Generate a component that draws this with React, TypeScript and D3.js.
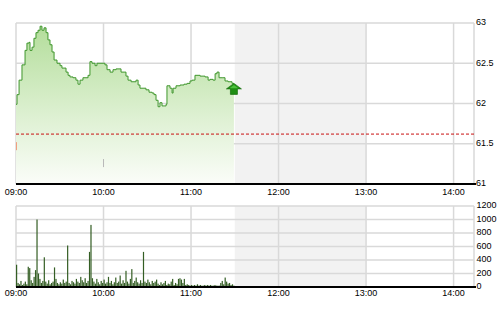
import React from "react";
import * as d3 from "d3";

// minutes after 09:00
const priceTimes = [
  0, 0.7, 2.1, 4.1, 6.2, 7.5, 8.9, 9.6, 11.0, 12.3, 13.7, 15.1, 16.5, 17.8, 19.2, 20.6, 21.9, 23.3, 24.7, 26.1,
  28.1, 30.2, 31.5, 32.9, 34.3, 35.7, 37.0, 39.1, 41.1, 42.5, 43.9, 45.9, 48.0, 49.4, 50.7, 52.1, 54.2, 55.5,
  57.6, 59.7, 61.0, 62.4, 64.5, 66.5, 68.6, 70.6, 72.0, 74.1, 75.4, 76.8, 78.9, 80.9, 82.3, 83.7, 85.0, 87.1,
  89.1, 91.2, 93.3, 94.6, 96.0, 97.4, 98.7, 100.1, 101.5, 102.9, 103.5, 105.6, 107.0, 107.7, 109.7, 112.5,
  115.2, 117.3, 119.3, 120.7, 122.7, 126.2, 129.6, 131.7, 133.0, 135.1, 136.5, 137.8, 139.2, 141.3, 143.3,
  145.4, 148.1, 149.4,
];
const prices = [
  61.99, 62.11, 62.29, 62.48, 62.66, 62.75, 62.76, 62.66, 62.7, 62.81, 62.88, 62.91, 62.96, 62.91, 62.94, 62.88,
  62.79, 62.73, 62.64, 62.54, 62.5, 62.47, 62.44, 62.44, 62.39, 62.35, 62.33, 62.32, 62.29, 62.24, 62.29, 62.32,
  62.32, 62.35, 62.52, 62.5, 62.47, 62.5, 62.5, 62.5, 62.48, 62.42, 62.39, 62.42, 62.43, 62.43, 62.39, 62.39,
  62.34, 62.29, 62.27, 62.27, 62.29, 62.23, 62.19, 62.19, 62.17, 62.14, 62.13, 62.11, 62.04, 61.96, 62.01,
  61.97, 61.97, 61.99, 62.22, 62.19, 62.13, 62.19, 62.22, 62.23, 62.24, 62.25, 62.28, 62.29, 62.35, 62.34,
  62.33, 62.29, 62.3, 62.29, 62.37, 62.39, 62.32, 62.32, 62.28, 62.27, 62.25, 62.25,
];
const volumes = [
  330, 60, 40, 90, 30, 50, 80, 40, 300, 280, 100, 60, 150, 250, 1000, 200, 120, 60, 90, 440,
  80, 50, 100, 40, 60, 80, 290, 120, 60, 40, 70, 50, 110, 60, 80, 615, 60, 40, 90, 70,
  50, 120, 80, 60, 150, 100, 70, 130, 60, 90, 520, 920, 130, 80, 50, 120, 70, 40, 90, 60,
  110, 50, 70, 150, 60, 90, 40, 70, 140, 60, 80, 170, 50, 100, 60, 240, 80, 50, 120, 265,
  60, 90, 140, 70, 50, 100, 60, 520, 80, 60, 110, 70, 40, 90, 60, 80, 110, 50, 30, 70,
  40, 60, 90, 30, 50, 40, 80, 120, 30, 60, 40, 120, 130, 110, 60, 120, 30, 40, 30, 20,
  30, 20, 30, 20, 40, 20, 30, 20, 20, 30, 20, 30, 20, 30, 20, 20, 30, 20, 20, 20,
  60, 90, 40, 140, 80, 50, 60, 30, 40, 20,
];
const refPrice = 61.62;
const openMark = [61.42, 61.52];
const midMark = [61.21, 61.31];
const timeTicks = [0, 60, 120, 180, 240, 300];
const timeLabels = ["09:00", "10:00", "11:00", "12:00", "13:00", "14:00"];
const priceTicks = [61, 61.5, 62, 62.5, 63];
const priceLabels = ["61", "61.5", "62", "62.5", "63"];
const volTicks = [0, 200, 400, 600, 800, 1000, 1200];
const breakRange = [150, 240];

const W = 500;
const H = 312;
const L = 16;
const R = 474;
const font = "'Liberation Sans', Arial, sans-serif";

export default function App() {
  const x = d3.scaleLinear().domain([0, 314]).range([L, R]);
  const y = d3.scaleLinear().domain([61, 63]).range([184, 23]);
  const yv = d3.scaleLinear().domain([0, 1200]).range([287, 206]);

  const pts = priceTimes.map((t, i) => [t, prices[i]] as [number, number]);
  const line = d3.line<[number, number]>().curve(d3.curveStepAfter).x((d) => x(d[0])).y((d) => y(d[1]));
  const area = d3
    .area<[number, number]>()
    .curve(d3.curveStepAfter)
    .x((d) => x(d[0]))
    .y0(184)
    .y1((d) => y(d[1]));

  const lastT = priceTimes[priceTimes.length - 1];
  const lastP = prices[prices.length - 1];
  const ax = x(lastT);
  const ay = y(lastP);

  const grid = "#d9d9d9";

  const panel = (top: number, bottom: number) => (
    <g>
      <rect x={x(breakRange[0])} y={top} width={x(breakRange[1]) - x(breakRange[0])} height={bottom - top} fill="#f2f2f2" />
      {timeTicks.map((t) => (
        <line key={t} x1={x(t)} x2={x(t)} y1={top} y2={bottom} stroke={grid} strokeWidth={1.5} />
      ))}
      <line x1={R} x2={R} y1={top} y2={bottom} stroke={grid} strokeWidth={1.5} />
    </g>
  );

  return (
    <svg width={W} height={H} style={{ position: "absolute", left: 0, top: 0, background: "#fff" }}>
      <defs>
        <linearGradient id="pf2" x1="0" y1={23} x2="0" y2={184} gradientUnits="userSpaceOnUse">
          <stop offset="0" stopColor="#b2dd99" />
          <stop offset="0.6" stopColor="#dff1d4" />
          <stop offset="1" stopColor="#fbfdf9" />
        </linearGradient>
      </defs>
      {/* price panel */}
      {panel(23, 184)}
      {priceTicks.map((p) => (
        <line key={p} x1={L} x2={R} y1={y(p)} y2={y(p)} stroke={grid} strokeWidth={1.5} />
      ))}
      <path d={area(pts) || ""} fill="url(#pf2)" />
      <path d={line(pts) || ""} fill="none" stroke="#3f962c" strokeWidth={1} />
      <line x1={L} x2={R} y1={y(refPrice)} y2={y(refPrice)} stroke="#c81010" strokeWidth={1} strokeDasharray="3,2" />
      <line x1={x(0) + 0.5} x2={x(0) + 0.5} y1={y(openMark[0])} y2={y(openMark[1])} stroke="#f0a080" strokeWidth={1} />
      <line x1={x(60)} x2={x(60)} y1={y(midMark[0])} y2={y(midMark[1])} stroke="#b8b8b8" strokeWidth={1} />
      <g transform={`translate(${ax},${ay})`}>
        <path d="M0,0 L7.5,5.5 L3.5,5.5 L3.5,11 L-3.5,11 L-3.5,5.5 L-7.5,5.5 Z" fill="#1f8e14" stroke="#156e0d" strokeWidth={0.7} />
        <path d="M0,1.5 L4.5,4.8 L-4.5,4.8 Z" fill="#4cc23c" />
      </g>
      <line x1={L} x2={R + 2} y1={184} y2={184} stroke="#000" strokeWidth={2} />
      {timeTicks.map((t, i) => (
        <text key={t} x={x(t)} y={192.5} textAnchor="middle" dominantBaseline="middle" fontFamily={font} fontSize={9} fill="#000">
          {timeLabels[i]}
        </text>
      ))}
      {priceTicks.map((p, i) => (
        <text key={p} x={476} y={y(p)} dominantBaseline="middle" fontFamily={font} fontSize={9} fill="#000">
          {priceLabels[i]}
        </text>
      ))}

      {/* volume panel */}
      {panel(206, 287)}
      {volTicks.map((v) => (
        <line key={v} x1={L} x2={R} y1={yv(v)} y2={yv(v)} stroke={grid} strokeWidth={1.5} />
      ))}
      {volumes.map((v, i) => (
        <rect key={i} x={x(i)} y={yv(v)} width={1.2} height={287 - yv(v)} fill="#345e24" />
      ))}
      <line x1={L} x2={R + 2} y1={287} y2={287} stroke="#000" strokeWidth={2} />
      {timeTicks.map((t, i) => (
        <text key={t} x={x(t)} y={294} textAnchor="middle" dominantBaseline="middle" fontFamily={font} fontSize={9} fill="#000">
          {timeLabels[i]}
        </text>
      ))}
      {volTicks.map((v) => (
        <text key={v} x={476.5} y={yv(v)} dominantBaseline="middle" fontFamily={font} fontSize={9} fill="#000">
          {v}
        </text>
      ))}
    </svg>
  );
}
